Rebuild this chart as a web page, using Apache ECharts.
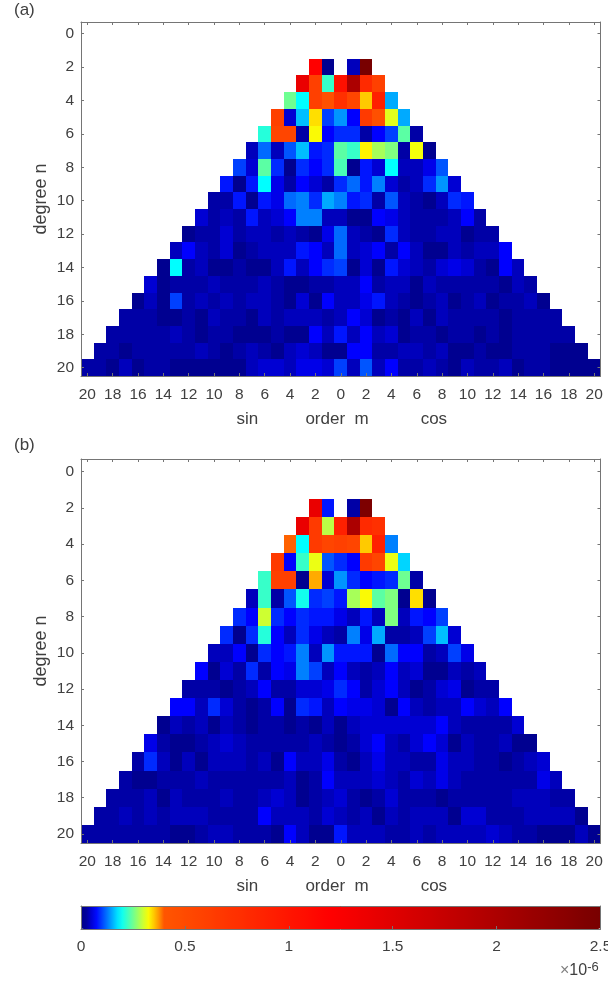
<!DOCTYPE html>
<html><head><meta charset="utf-8">
<style>html,body{margin:0;padding:0;background:#fff;overflow:hidden}#c{width:608px;height:981px}</style>
<script src="https://cdn.jsdelivr.net/npm/echarts@6/dist/echarts.min.js"></script>
</head><body><div id="c"></div>
<script>
// Values are in units of 1e-8; each row n holds orders m = -n .. n (sin on the left, cos on the right).
const degreeTicks = [0,2,4,6,8,10,12,14,16,18,20];
const orderTicks = [-20,-18,-16,-14,-12,-10,-8,-6,-4,-2,0,2,4,6,8,10,12,14,16,18,20];
const barTicks = [0,0.5,1,1.5,2,2.5];
const firstDegree = 2;
const panelA = [
[120,2,null,4,250],
[140,60,22,105,200,80,60],
[25,19,60,45,75,55,35,90,15],
[60,5,16,34,10,14,7,65,45,31,15],
[21,55,55,3,32.5,7,9,9,3,7,10,24,3],
[4,12,4,11,16,8,9,24,22,33,28,26,3,32,2],
[10,5,24,9,2,9,7,9,23,2,8,5,19,4,4,6,11],
[8,2,8,19,6,3,7,5,3,9,12,8,13,5,3,4,9,14,5],
[3,3,8,2,8,6,12,13,9,15,13,8,9,3,11,4,3,2,4,9,8],
[5,3,4,3,8,4,5,7,13,13,4,4,2,2,7,6,4,3,3,3,4,7,3],
[2,3,3,5,3,4,4,3,4,3,2,6,12,4,3,2,9,4,3,3,4,4,2,3,3],
[4,7,4,3,5,2,3,4,4,4,8,7,4,12,4,5,7,3,7,4,2,2,4,3,4,4,7],
[2,19,3,4,2,2,3,2,2,4,8,4,7,9,10,2,5,2,8,5,4,3,5,6,5,3,2,7,4],
[5,2,3,3,3,4,3,3,3,4,3,2,2,3,3,4,4,7,3,4,4,2,4,3,3,3,3,3,2,4,3],
[2,4,2,10,3,4,3,4,3,4,4,3,2,5,2,7,4,4,6,8,4,3,2,3,4,2,3,4,2,3,3,4,2],
[3,3,3,2,2,3,2,4,3,3,2,4,3,4,4,4,3,4,7,5,2,3,2,4,2,4,3,3,3,3,2,3,3,3,3],
[3,3,3,3,3,4,3,2,3,3,2,2,2,3,2,2,7,4,8,4,7,4,5,2,3,3,2,3,3,2,3,2,3,3,3,3,3],
[3,3,2,3,3,3,3,3,4,3,2,3,4,3,2,4,5,4,2,2,7,7,3,3,4,4,3,4,2,2,3,2,2,3,3,3,2,2,2],
[3,3,2,4,2,3,3,2,2,2,2,2,2,4,5,5,4,6,6,5,10,4,11,4,7,3,3,4,3,2,4,3,3,4,2,3,3,2,2,2,2]
];
const panelB = [
[140,8,null,3,245],
[140,65,29,90,200,80,75],
[39.5,19,65,55,60,55,35,90,13],
[65,7,22,31.5,11,9,7,65,55,31.5,17],
[22,60,60,2,36.5,5,14,9,7,8,9,25,3],
[4,22,3,11,20,9,10,8,28,32.5,24,26,2,34,2],
[9,7,30,9,7,9,8,8,6,4,8,4,26,4,8,7,10],
[9,2,9,21,7,4,9,6,4,3,13,6,15,3,3,4,10,16,5],
[4,4,7,2,9,7,8,13,4,14,8,8,8,2,12,7,7,3,4,10,6],
[7,2,5,3,9,3,7,6,13,10,4,7,4,3,4,7,4,5,2,2,4,3,4],
[3,3,3,2,3,4,7,3,3,5,5,6,9,7,3,5,7,4,2,3,5,6,2,3,3],
[7,7,4,9,5,3,2,3,7,2,9,8,4,7,6,6,5,2,7,4,3,4,4,7,5,4,7],
[2,4,3,4,2,4,3,2,3,3,2,3,2,4,2,4,5,5,5,5,5,5,7,4,3,3,3,3,5],
[6,3,2,2,3,4,5,4,3,3,3,3,3,4,3,2,3,5,7,4,3,5,7,5,2,4,3,3,4,2,2],
[3,9,4,2,4,2,4,4,4,3,4,2,7,4,4,6,3,2,4,6,4,4,3,3,6,4,4,3,3,2,3,4,5],
[3,2,2,3,3,3,4,3,3,3,3,3,3,4,2,3,7,4,4,4,5,4,3,5,4,6,4,3,3,3,3,3,3,6,4],
[3,3,3,4,2,4,3,3,3,4,3,3,4,5,4,2,3,4,5,3,2,3,5,3,3,3,2,3,3,3,3,3,4,4,4,3,3],
[3,3,4,3,4,3,4,4,4,3,3,3,3,7,4,4,4,3,5,4,3,4,2,4,3,4,4,4,2,5,5,3,3,3,4,4,4,4,2],
[3,3,3,3,3,3,3,2,2,3,4,4,3,3,3,2,7,4,2,2,8,4,4,4,3,3,4,3,4,4,4,4,5,4,3,3,2,2,2,4,2]
];
const colorStops = [
 [0,'#000088'],[0.02,'#000090'],[0.07,'#0000ff'],[0.19,'#00ffff'],[0.26,'#80ff80'],
 [0.325,'#ffff00'],[0.37,'#ffa000'],[0.4,'#ff5500'],[1.2,'#ff0000'],[2.5,'#780000']
];

function rgb(h){return [1,3,5].map(i=>parseInt(h.substr(i,2),16));}
function palette(){
  const out=[];
  for(let k=0;k<=250;k++){
    const v=k/100;
    let i=0; while(i<colorStops.length-2 && v>colorStops[i+1][0]) i++;
    const [a,ca]=colorStops[i],[b,cb]=colorStops[i+1];
    const t=Math.min(1,(v-a)/(b-a));
    const p=rgb(ca),q=rgb(cb);
    out.push('rgb('+p.map((c,j)=>Math.round(c+(q[j]-c)*t)).join(',')+')');
  }
  return out;
}
function cells(rows){
  const d=[];
  rows.forEach((row,r)=>{
    const n=firstDegree+r;
    row.forEach((v,i)=>{ if(v!==null) d.push([i-n,n,v/100]); });
  });
  return d;
}
const renderCell=(params,api)=>{
  const p0=api.coord([api.value(0)-0.5,api.value(1)-0.5]);
  const p1=api.coord([api.value(0)+0.5,api.value(1)+0.5]);
  const x=Math.round(p0[0]),y=Math.round(p0[1]);
  return {type:'rect',shape:{x,y,width:Math.round(p1[0])-x,height:Math.round(p1[1])-y},
    style:{fill:api.visual('color')}};
};
const FONT='"Liberation Sans", Arial, sans-serif', INK='#404040', LINE='#757575';
const TICK=15.5, NAME=17;
const base={z:10,axisLine:{show:true,onZero:false,lineStyle:{color:LINE,width:1}},splitLine:{show:false}};
const tickStyle=(vals,len)=>({show:true,inside:true,length:len,customValues:vals,lineStyle:{color:LINE,width:1}});
const grids=[],xAxes=[],yAxes=[],series=[];
function panel(data,top,height,name){
  const g=grids.length;
  grids.push({left:81,right:7.5,top,height,outerBoundsMode:'none'});
  const xr={type:'value',min:-20.5,max:20.5,gridIndex:g};
  const yr={type:'value',min:-0.7,max:20.5,inverse:true,gridIndex:g};
  const xi=xAxes.length,yi=yAxes.length;
  xAxes.push({...base,...xr,position:'bottom',axisTick:tickStyle(orderTicks,3),
    axisLabel:{customValues:orderTicks,formatter:v=>String(Math.abs(v)),color:INK,fontSize:TICK,fontFamily:FONT,margin:11},
    name:'sin          order  m           cos',nameLocation:'middle',nameGap:35,nameMoveOverlap:false,
    nameTextStyle:{color:INK,fontSize:NAME,fontFamily:FONT,padding:[0,0,0,2]}});
  xAxes.push({...base,...xr,position:'top',axisTick:tickStyle(orderTicks,3),axisLabel:{show:false}});
  yAxes.push({...base,...yr,position:'left',axisTick:tickStyle(degreeTicks,3),
    axisLabel:{customValues:degreeTicks,color:INK,fontSize:TICK,fontFamily:FONT,margin:7,padding:[3,0,0,0]},
    name:'degree n',nameLocation:'middle',nameGap:31,nameMoveOverlap:false,
    nameTextStyle:{color:INK,fontSize:18,fontFamily:FONT}});
  yAxes.push({...base,...yr,position:'right',axisTick:tickStyle(degreeTicks,3),axisLabel:{show:false}});
  series.push({type:'custom',name,xAxisIndex:xi,yAxisIndex:yi,data:cells(data),renderItem:renderCell,
    encode:{x:0,y:1},clip:true,silent:true,animation:false});
}
panel(panelA,22,354,'(a)');
panel(panelB,459,384,'(b)');
// colour bar frame and scale
const g=grids.length;
grids.push({left:81,right:7.5,top:906,height:23,outerBoundsMode:'none'});
xAxes.push({...base,type:'value',gridIndex:g,min:0,max:2.5,interval:0.5,position:'bottom',
  axisTick:tickStyle(barTicks,3),
  axisLabel:{customValues:barTicks,color:INK,fontSize:TICK,fontFamily:FONT,margin:10,alignMinLabel:'center',alignMaxLabel:'center'},z:20});
xAxes.push({...base,type:'value',gridIndex:g,min:0,max:2.5,position:'top',axisTick:{show:false},axisLabel:{show:false},z:20});
yAxes.push({...base,type:'value',gridIndex:g,min:0,max:1,position:'left',axisTick:{show:false},axisLabel:{show:false},z:20});
yAxes.push({...base,type:'value',gridIndex:g,min:0,max:1,position:'right',axisTick:{show:false},axisLabel:{show:false},z:20});

const chart=echarts.init(document.getElementById('c'),null,{renderer:'canvas'});
chart.setOption({
  animation:false,backgroundColor:'#fff',
  textStyle:{fontFamily:FONT},
  title:[
    {text:'(a)',left:14,top:2,textStyle:{color:INK,fontSize:NAME,fontWeight:'normal',fontFamily:FONT},padding:0},
    {text:'(b)',left:14,top:437,textStyle:{color:INK,fontSize:NAME,fontWeight:'normal',fontFamily:FONT},padding:0},
    {text:'{x|\u00d7}10{s|-6}',left:560,top:961,padding:0,
      textStyle:{color:INK,fontSize:16,fontWeight:'normal',fontFamily:FONT,rich:{
        x:{fontSize:16,color:'#808080',fontFamily:FONT},
        s:{fontSize:13,color:INK,fontFamily:FONT,padding:[0,0,7,0]}}}}
  ],
  grid:grids,xAxis:xAxes,yAxis:yAxes,series,
  visualMap:{type:'continuous',min:0,max:2.5,dimension:2,seriesIndex:[0,1],orient:'horizontal',
    left:81,top:906,itemWidth:23,itemHeight:519.5,padding:0,calculable:false,realtime:false,hoverLink:false,
    text:null,showLabel:false,inRange:{color:palette()}}
});
</script></body></html>
